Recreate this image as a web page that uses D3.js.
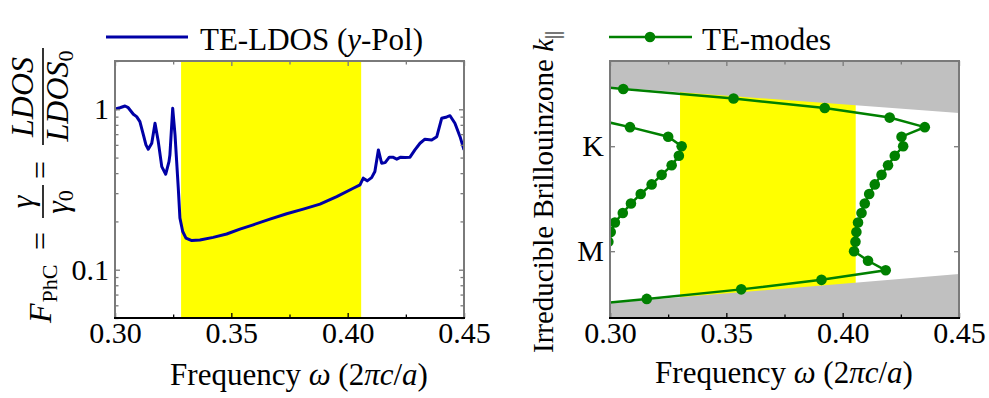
<!DOCTYPE html>
<html>
<head>
<meta charset="utf-8">
<script src="https://cdn.jsdelivr.net/npm/d3@7"></script>
<style>
  body { margin: 0; background: #fff; }
  svg text { font-family: "Liberation Serif", "Times New Roman", serif; fill: #000; }
</style>
</head>
<body>
<div id="chart"></div>
<script>
/* ---------- data ---------- */
// left panel: TE-LDOS (y-Pol) vs frequency
var ldosFreq = [0.3000, 0.3021, 0.3043, 0.3057, 0.3079, 0.3093, 0.3107, 0.3122, 0.3133, 0.3143,
  0.3158, 0.3172, 0.3186, 0.3201, 0.3218, 0.3232, 0.3236, 0.3248, 0.3258, 0.3265,
  0.3272, 0.3279, 0.3291, 0.3305, 0.3330, 0.3365, 0.3422, 0.3480, 0.3537, 0.3594,
  0.3666, 0.3738, 0.3809, 0.3881, 0.3953, 0.4024, 0.4053, 0.4067, 0.4084, 0.4103,
  0.4117, 0.4132, 0.4146, 0.4161, 0.4179, 0.4194, 0.4211, 0.4228, 0.4246, 0.4268,
  0.4289, 0.4311, 0.4332, 0.4361, 0.4383, 0.4404, 0.4426, 0.4440, 0.4461, 0.4483, 0.4500];
var ldosValue = [1.004, 1.023, 1.048, 1.023, 0.931, 0.900, 0.837, 0.692, 0.600, 0.564,
  0.614, 0.818, 0.629, 0.439, 0.394, 0.472, 0.520, 1.014, 0.692, 0.472,
  0.322, 0.210, 0.173, 0.1575, 0.152, 0.153, 0.159, 0.167, 0.179, 0.1905,
  0.2068, 0.2232, 0.2385, 0.2564, 0.2858, 0.322, 0.338, 0.372, 0.358, 0.375,
  0.409, 0.558, 0.461, 0.465, 0.503, 0.503, 0.489, 0.503, 0.500, 0.503,
  0.558, 0.614, 0.651, 0.644, 0.675, 0.879, 0.896, 0.912, 0.818, 0.675, 0.558];
var gapLeft = [0.3284, 0.4058];

// right panel: TE bands, frequency for each k-point along the irreducible path
var kIndex = [-1, 0, 1, 2, 3, 4, 5, 6, 7, 8, 9, 10, 11, 12, 13, 14, 15, 16, 17, 18, 19, 20, 21, 22, 23];
var bandUpper = [0.2750, 0.3158, 0.3564, 0.3909, 0.4185, 0.4109, 0.4049, 0.4055, 0.4059, 0.4066,
  0.4081, 0.4095, 0.4114, 0.4138, 0.4167, 0.4195, 0.4224, 0.4260, 0.4253, 0.4353,
  0.4202, 0.3923, 0.3531, 0.3057, 0.2590];
var bandLower = [null, null, null, null, null, null, 0.2975, 0.2993, 0.3003, 0.3021,
  0.3055, 0.3090, 0.3132, 0.3179, 0.3222, 0.3265, 0.3296, 0.3308, 0.3250, 0.3086,
  0.2903, null, null, null, null];
var lightLineTop = [[0.30, 22.2], [0.45, 19.48]];
var lightLineBottom = [[0.30, -0.43], [0.45, 2.61]];
var gapRight = [0.3301, 0.4056];
var kTicks = [5, 16];
var kTickLabels = ["M", "K"];

// shared tick values
var freqTicks = [0.30, 0.35, 0.40, 0.45];
var freqMinor = [0.325, 0.375, 0.425];
var logTicks = [0.1, 1];
var logTickLabels = ["0.1", "1"];
var logMinor = [0.05, 0.06, 0.07, 0.08, 0.09, 0.2, 0.3, 0.4, 0.5, 0.6, 0.7, 0.8, 0.9, 2];

/* ---------- setup ---------- */
var W = 989, H = 398;
var blue = "#0000a6", green = "#008000", yellow = "#ffff00", grey = "#c0c0c0";
var spineGrey = "#7a7a7a";
var tickFont = 30;

var svg = d3.select("#chart").append("svg")
  .attr("width", W)
  .attr("height", H);

var boxL = { left: 115, right: 464, top: 61, bottom: 318 };
var boxR = { left: 610, right: 959, top: 61, bottom: 318 };

var xL = d3.scaleLinear().domain([0.30, 0.45]).range([boxL.left, boxL.right]);
var yL = d3.scaleLog().domain([0.05, 2]).range([boxL.bottom, boxL.top]);
var xR = d3.scaleLinear().domain([0.30, 0.45]).range([boxR.left, boxR.right]);
var yR = d3.scaleLinear().domain([-2, 24.93]).range([boxR.bottom, boxR.top]);

var defs = svg.append("defs");
function clip(id, b) {
  defs.append("clipPath").attr("id", id)
    .append("rect")
      .attr("x", b.left).attr("y", b.top)
      .attr("width", b.right - b.left).attr("height", b.bottom - b.top);
}
clip("clipL", boxL);
clip("clipR", boxR);

/* ---------- axes helper ---------- */
function styleAxis(g, color) {
  g.select(".domain").remove();
  g.selectAll(".tick line").attr("stroke", color).attr("stroke-width", 1.3);
  g.selectAll("text")
    .attr("font-size", tickFont)
    .attr("fill", "#000");
  g.attr("font-family", null).attr("font-size", null);
}

function drawFrame(b, x, y, yMajor, yMinor, yFmt) {
  var fmt = d3.format(".2f");
  // bottom
  var gb = svg.append("g").attr("transform", "translate(0," + b.bottom + ")")
    .call(d3.axisBottom(x).tickValues(freqTicks).tickSize(-5).tickPadding(4).tickFormat(fmt));
  styleAxis(gb, "#000");
  gb = svg.append("g").attr("transform", "translate(0," + b.bottom + ")")
    .call(d3.axisBottom(x).tickValues(freqMinor).tickSize(-3.5).tickFormat(""));
  styleAxis(gb, "#000");
  // top
  var gt = svg.append("g").attr("transform", "translate(0," + b.top + ")")
    .call(d3.axisTop(x).tickValues(freqTicks).tickSize(-5).tickFormat(""));
  styleAxis(gt, spineGrey);
  gt = svg.append("g").attr("transform", "translate(0," + b.top + ")")
    .call(d3.axisTop(x).tickValues(freqMinor).tickSize(-3.5).tickFormat(""));
  styleAxis(gt, spineGrey);
  // left
  var gl = svg.append("g").attr("transform", "translate(" + b.left + ",0)")
    .call(d3.axisLeft(y).tickValues(yMajor).tickSize(-5).tickPadding(6).tickFormat(yFmt));
  styleAxis(gl, spineGrey);
  // right
  var gr = svg.append("g").attr("transform", "translate(" + b.right + ",0)")
    .call(d3.axisRight(y).tickValues(yMajor).tickSize(-5).tickFormat(""));
  styleAxis(gr, spineGrey);
  if (yMinor) {
    gl = svg.append("g").attr("transform", "translate(" + b.left + ",0)")
      .call(d3.axisLeft(y).tickValues(yMinor).tickSize(-3.5).tickFormat(""));
    styleAxis(gl, spineGrey);
    gr = svg.append("g").attr("transform", "translate(" + b.right + ",0)")
      .call(d3.axisRight(y).tickValues(yMinor).tickSize(-3.5).tickFormat(""));
    styleAxis(gr, spineGrey);
  }
  // spines
  var sp = svg.append("g").attr("fill", "none");
  sp.append("path")
    .attr("d", "M" + b.left + "," + b.bottom + "V" + b.top + "H" + b.right + "V" + b.bottom)
    .attr("stroke", spineGrey).attr("stroke-width", 2);
  sp.append("line")
    .attr("x1", b.left - 1).attr("x2", b.right + 1)
    .attr("y1", b.bottom).attr("y2", b.bottom)
    .attr("stroke", "#000").attr("stroke-width", 2);
}

function freqLabel(cx, baseline) {
  var t = svg.append("text")
    .attr("x", cx).attr("y", baseline)
    .attr("text-anchor", "middle")
    .attr("font-size", 31);
  t.append("tspan").text("Frequency ");
  t.append("tspan").attr("font-style", "italic").text("ω");
  t.append("tspan").text(" (2");
  t.append("tspan").attr("font-style", "italic").text("πc");
  t.append("tspan").text("/");
  t.append("tspan").attr("font-style", "italic").text("a");
  t.append("tspan").text(")");
}

/* ---------- left panel ---------- */
var ldos = ldosFreq.map(function(f, i) { return [f, ldosValue[i]]; });

var pL = svg.append("g").attr("clip-path", "url(#clipL)");
pL.append("rect")
  .attr("x", xL(gapLeft[0])).attr("y", boxL.top)
  .attr("width", xL(gapLeft[1]) - xL(gapLeft[0]))
  .attr("height", boxL.bottom - boxL.top)
  .attr("fill", yellow);
pL.append("path")
  .datum(ldos)
  .attr("d", d3.line().x(function(d) { return xL(d[0]); }).y(function(d) { return yL(d[1]); }))
  .attr("fill", "none")
  .attr("stroke", blue)
  .attr("stroke-width", 3)
  .attr("stroke-linejoin", "round");

drawFrame(boxL, xL, yL, logTicks, logMinor, function(d) { return logTickLabels[logTicks.indexOf(d)]; });
freqLabel(299, 385);

// legend
svg.append("line")
  .attr("x1", 106).attr("x2", 188).attr("y1", 37).attr("y2", 37)
  .attr("stroke", blue).attr("stroke-width", 3);
var lg = svg.append("text").attr("x", 200).attr("y", 50).attr("font-size", 31);
lg.append("tspan").text("TE-LDOS (");
lg.append("tspan").attr("font-style", "italic").text("y");
lg.append("tspan").text("-Pol)");

// y label (rotated, with fractions)
var yl = svg.append("g").attr("transform", "translate(51,323) rotate(-90)")
  .attr("font-size", 32);
var f = yl.append("text").attr("x", 0).attr("y", 0);
f.append("tspan").attr("font-style", "italic").text("F");
f.append("tspan").attr("font-size", 22).attr("dy", 6).attr("dx", 1).text("PhC");
yl.append("text").attr("x", 82).attr("y", 0).attr("text-anchor", "middle").text("=");
yl.append("text").attr("x", 121).attr("y", -18).attr("text-anchor", "middle")
  .attr("font-style", "italic").text("γ");
var den1 = yl.append("text").attr("x", 121).attr("y", 17).attr("text-anchor", "middle");
den1.append("tspan").attr("font-style", "italic").text("γ");
den1.append("tspan").attr("font-size", 22).attr("dy", 5).text("0");
yl.append("line").attr("x1", 105).attr("x2", 138).attr("y1", -8).attr("y2", -8)
  .attr("stroke", "#000").attr("stroke-width", 1.6);
yl.append("text").attr("x", 153).attr("y", 0).attr("text-anchor", "middle").text("=");
yl.append("text").attr("x", 226).attr("y", -18).attr("text-anchor", "middle")
  .attr("font-style", "italic").text("LDOS");
var den2 = yl.append("text").attr("x", 227).attr("y", 17).attr("text-anchor", "middle");
den2.append("tspan").attr("font-style", "italic").text("LDOS");
den2.append("tspan").attr("font-size", 22).attr("dy", 5).text("0");
yl.append("line").attr("x1", 178).attr("x2", 275).attr("y1", -8).attr("y2", -8)
  .attr("stroke", "#000").attr("stroke-width", 1.6);

/* ---------- right panel ---------- */
var pR = svg.append("g").attr("clip-path", "url(#clipR)");
pR.append("rect")
  .attr("x", xR(gapRight[0])).attr("y", boxR.top)
  .attr("width", xR(gapRight[1]) - xR(gapRight[0]))
  .attr("height", boxR.bottom - boxR.top)
  .attr("fill", yellow);

var kDom = yR.domain();
var topPoly = [[lightLineTop[0][0], kDom[1]]].concat(lightLineTop).concat([[lightLineTop[1][0], kDom[1]]]);
var botPoly = [[lightLineBottom[0][0], kDom[0]]].concat(lightLineBottom).concat([[lightLineBottom[1][0], kDom[0]]]);
var area = d3.line().x(function(d) { return xR(d[0]); }).y(function(d) { return yR(d[1]); });
pR.selectAll("path.light")
  .data([topPoly, botPoly])
  .enter().append("path")
    .attr("class", "light")
    .attr("d", function(d) { return area(d) + "Z"; })
    .attr("fill", grey);

var bands = [bandUpper, bandLower].map(function(b) {
  return kIndex.map(function(k, i) { return [b[i], k]; }).filter(function(d) { return d[0] != null; });
});
var bandLine = d3.line().x(function(d) { return xR(d[0]); }).y(function(d) { return yR(d[1]); });
pR.selectAll("path.band")
  .data(bands)
  .enter().append("path")
    .attr("class", "band")
    .attr("d", bandLine)
    .attr("fill", "none")
    .attr("stroke", green)
    .attr("stroke-width", 2.5);
pR.selectAll("circle")
  .data(d3.merge(bands))
  .enter().append("circle")
    .attr("cx", function(d) { return xR(d[0]); })
    .attr("cy", function(d) { return yR(d[1]); })
    .attr("r", 5.3)
    .attr("fill", green);

drawFrame(boxR, xR, yR, kTicks, null, function(d) { return kTickLabels[kTicks.indexOf(d)]; });
freqLabel(784, 383);

// legend
svg.append("line")
  .attr("x1", 609).attr("x2", 692).attr("y1", 37).attr("y2", 37)
  .attr("stroke", green).attr("stroke-width", 2.5);
svg.append("circle").attr("cx", 650).attr("cy", 37).attr("r", 5.3).attr("fill", green);
svg.append("text").attr("x", 702).attr("y", 50).attr("font-size", 31).text("TE-modes");

// y label
var yr = svg.append("text")
  .attr("transform", "translate(553,353) rotate(-90)")
  .attr("font-size", 29);
yr.append("tspan").text("Irreducible Brillouinzone ");
yr.append("tspan").attr("font-style", "italic").text("k");
yr.append("tspan").attr("font-size", 20).attr("dy", 6).text("||");
</script>
</body>
</html>
